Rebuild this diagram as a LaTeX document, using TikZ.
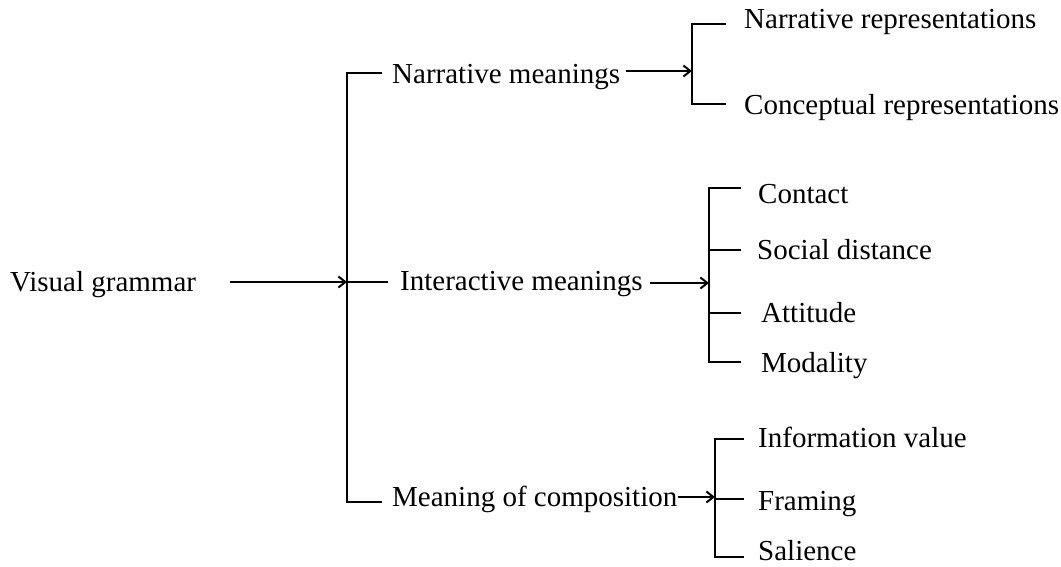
\documentclass[tikz,border=0pt]{standalone}
\usepackage{fontspec}
\setmainfont{Liberation Serif}
\usetikzlibrary{arrows.meta}
\begin{document}
\begin{tikzpicture}[x=1pt,y=-1pt,
  lbl/.style={anchor=base west,inner sep=0pt,font=\fontsize{29}{34}\selectfont},
  ln/.style={line width=2.4pt,line cap=rect},
  arr/.style={line width=2.4pt,-{Straight Barb[length=7pt,width=11pt,line width=2pt]}}]
\useasboundingbox (0,0) rectangle (1061,566);
% labels
\node[lbl] (vg) at (10,291) {Visual grammar};
\node[lbl] (nm) at (392,83) {Narrative meanings};
\node[lbl] (im) at (400,290) {Interactive meanings};
\node[lbl] (mc) at (392,506) {Meaning of composition};
\node[lbl] (nr) at (744,28) {Narrative representations};
\node[lbl] (cr) at (744,114) {Conceptual representations};
\node[lbl] (ct) at (758,203) {Contact};
\node[lbl] (sd) at (757,259) {Social distance};
\node[lbl] (at) at (761,322) {Attitude};
\node[lbl] (md) at (761,372) {Modality};
\node[lbl] (iv) at (758,447) {Information value};
\node[lbl] (fr) at (758,510) {Framing};
\node[lbl] (sl) at (758,560) {Salience};
% coordinates
\coordinate (vgA) at (230,282);
\coordinate (mj) at (347,282);
\coordinate (mT) at (347,73);
\coordinate (mB) at (347,502);
\coordinate (nmA) at (626,71);
\coordinate (nj) at (692,71);
\coordinate (imA) at (650,283);
\coordinate (ij) at (709,283);
\coordinate (mcA) at (678,497);
\coordinate (cj) at (715,497);
% main bracket
\draw[arr] (vgA) -- (mj);
\draw[ln] (381,73) -- (mT) -- (mB) -- (381,502);
\draw[ln] (mj) -- (387,282);
% narrative
\draw[arr] (nmA) -- (nj);
\draw[ln] (725,24) -- (692,24) -- (692,104) -- (725,104);
% interactive
\draw[arr] (imA) -- (ij);
\draw[ln] (740,188) -- (709,188) -- (709,362) -- (740,362);
\draw[ln] (709,250) -- (740,250);
\draw[ln] (709,313) -- (740,313);
% composition
\draw[arr] (mcA) -- (cj);
\draw[ln] (743,439) -- (715,439) -- (715,557) -- (743,557);
\draw[ln] (715,499) -- (743,499);
\end{tikzpicture}
\end{document}
